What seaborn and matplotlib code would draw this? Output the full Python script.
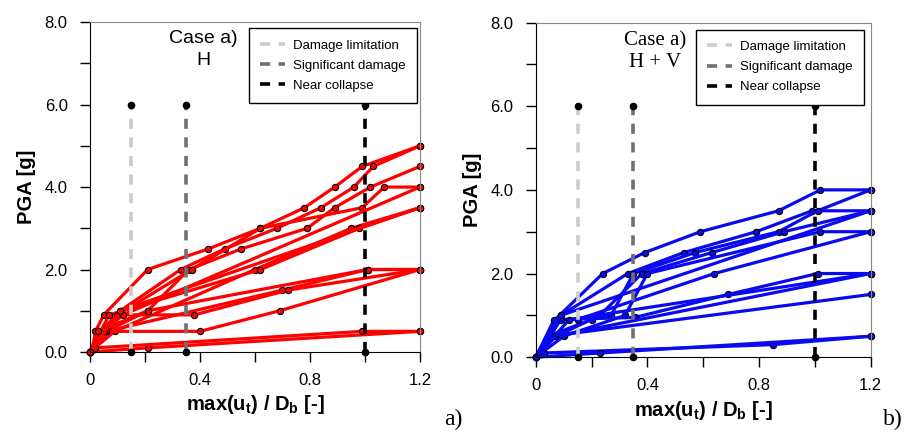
import pandas as pd
import seaborn as sns
import matplotlib.pyplot as plt
from matplotlib.lines import Line2D

# limit states (normalised isolator displacement)
limit_names = ['Damage limitation', 'Significant damage', 'Near collapse']
limit_x = [0.15, 0.35, 1.0]
limit_colors = ['#cccccc', '#707070', '#000000']
limit_top = 6.0

x_ticks = [0, 0.4, 0.8, 1.2]
x_tick_labels = ['0', '0.4', '0.8', '1.2']
y_ticks = [0, 2, 4, 6, 8]
y_tick_labels = ['0.0', '2.0', '4.0', '6.0', '8.0']

# case a) H : one list per record
h_drift = [
    [0, 0.01, 0.02, 0.05, 0.21, 0.43, 0.62, 0.78, 0.89, 0.99, 1.2],
    [0, 0.02, 0.04, 0.11, 0.33, 0.49, 0.68, 0.84, 0.96, 1.03, 1.2],
    [0, 0.06, 0.21, 0.36, 0.55, 0.79, 0.89, 1.02, 1.2],
    [0, 0.07, 0.10, 0.37, 0.62, 0.99, 1.07, 1.2],
    [0, 0.09, 0.60, 0.95, 1.2],
    [0, 0.07, 0.62, 0.98, 1.2],
    [0, 0.06, 0.70, 1.01, 1.2],
    [0, 0.10, 0.38, 0.72, 1.2],
    [0, 0.06, 0.40, 0.69, 1.2],
    [0, 0.21, 1.2],
    [0, 0.02, 0.99, 1.2],
    [0, 0.05, 0.12, 1.2],
    [0, 0.11, 1.2],
    [0, 0.03, 0.21, 1.01, 1.2],
]
h_pga = [
    [0, 0.1, 0.5, 0.9, 2.0, 2.5, 3.0, 3.5, 4.0, 4.5, 5.0],
    [0, 0.1, 0.5, 1.0, 2.0, 2.5, 3.0, 3.5, 4.0, 4.5, 5.0],
    [0, 0.5, 1.0, 2.0, 2.5, 3.0, 3.5, 4.0, 4.5],
    [0, 0.5, 0.9, 2.0, 3.0, 3.5, 4.0, 4.0],
    [0, 0.5, 2.0, 3.0, 3.5],
    [0, 0.9, 2.0, 3.0, 3.5],
    [0, 0.5, 1.5, 2.0, 2.0],
    [0, 0.9, 0.9, 1.5, 2.0],
    [0, 0.5, 0.5, 1.0, 2.0],
    [0, 0.1, 0.5],
    [0, 0.1, 0.5, 0.5],
    [0, 0.5, 0.9, 4.0],
    [0, 1.0, 3.5],
    [0, 0.5, 1.0, 2.0, 2.0],
]

# case a) H + V
hv_drift = [
    [0, 0.01, 0.05, 0.07, 0.24, 0.39, 0.59, 0.87, 1.02, 1.2],
    [0, 0.02, 0.056, 0.09, 0.33, 0.53, 0.79, 0.99, 1.2],
    [0, 0.044, 0.20, 0.27, 0.35, 0.57, 0.87, 1.01, 1.2],
    [0, 0.072, 0.23, 0.38, 0.63, 0.89, 1.2],
    [0, 0.10, 0.32, 0.40, 1.02, 1.2],
    [0, 0.066, 0.15, 0.64, 1.2],
    [0, 0.09, 0.355, 0.69, 1.01, 1.2],
    [0, 0.05, 1.2],
    [0, 0.03, 0.85, 1.2],
    [0, 0.23, 1.2],
    [0, 0.07, 1.2],
    [0, 0.09, 1.2],
    [0, 0.12, 1.2],
]
hv_pga = [
    [0, 0.1, 0.5, 0.9, 2.0, 2.5, 3.0, 3.5, 4.0, 4.0],
    [0, 0.1, 0.5, 1.0, 2.0, 2.5, 3.0, 3.5, 3.5],
    [0, 0.5, 0.9, 1.0, 2.0, 2.5, 3.0, 3.5, 4.0],
    [0, 0.5, 1.0, 2.0, 2.5, 3.0, 3.5],
    [0, 0.5, 1.0, 2.0, 3.0, 3.0],
    [0, 0.9, 0.9, 2.0, 3.0],
    [0, 0.9, 0.95, 1.5, 2.0, 2.0],
    [0, 0.5, 1.5],
    [0, 0.1, 0.3, 0.5],
    [0, 0.1, 0.5],
    [0, 0.5, 2.0],
    [0, 1.0, 3.5],
    [0, 0.9, 2.0],
]

DASH = (0, (2.8, 2.35))


def to_frame(drifts, pgas):
    rows = []
    for i, (d, p) in enumerate(zip(drifts, pgas)):
        for x, y in zip(d, p):
            rows.append((i, x, y))
    return pd.DataFrame(rows, columns=['record', 'drift', 'pga'])


def draw_panel(ax, drifts, pgas, color, leg_anchor):
    df = to_frame(drifts, pgas)
    sns.lineplot(data=df, x='drift', y='pga', units='record', estimator=None, sort=False,
                 color=color, lw=2.3, marker='o', markersize=4.5, markerfacecolor=color,
                 markeredgecolor='black', markeredgewidth=0.8, legend=False, ax=ax,
                 zorder=2, clip_on=False)

    for x, c in zip(limit_x, limit_colors):
        ax.plot([x, x], [0, limit_top], color=c, lw=2.6, ls=DASH,
                dash_capstyle='butt', zorder=3)
        ax.plot([x, x], [0, limit_top], 'o', color='black', ms=4.5, zorder=4, clip_on=False)

    handles = [Line2D([0], [0], color=c, lw=2.6, ls=DASH, dash_capstyle='butt')
               for c in limit_colors]
    leg = ax.legend(handles, limit_names, loc='upper right', bbox_to_anchor=leg_anchor,
                    borderaxespad=0, fontsize=9.5, fancybox=False, framealpha=1,
                    edgecolor='black', handlelength=1.9, handletextpad=0.6,
                    borderpad=0.85, labelspacing=0.6)
    leg.get_frame().set_linewidth(1.0)

    ax.set_xlim(0, 1.2)
    ax.set_ylim(0, 8)
    ax.set_xticks(x_ticks, x_tick_labels)
    ax.set_xticks([0.2, 0.6, 1.0], minor=True)
    ax.set_yticks(y_ticks, y_tick_labels)
    ax.set_yticks([1, 3, 5, 7], minor=True)
    ax.tick_params(which='both', direction='out', length=7, width=1, labelsize=12,
                   colors='black')
    ax.tick_params(axis='y', pad=9)
    ax.tick_params(axis='x', pad=8)
    ax.set_xlabel('max(u$_{\\mathbf{t}}$) / D$_{\\mathbf{b}}$ [-]', fontsize=14.5,
                  fontweight='bold', labelpad=4, color='black')
    ax.set_ylabel('PGA [g]', fontsize=14.5, fontweight='bold', labelpad=6, color='black')
    for s in ['top', 'right']:
        ax.spines[s].set_color('#888888')
    for s in ['left', 'bottom']:
        ax.spines[s].set_color('black')


sns.set_style('ticks')
plt.rcParams['font.family'] = ['Liberation Sans', 'DejaVu Sans']
plt.rcParams['text.color'] = 'black'
plt.rcParams['mathtext.fontset'] = 'custom'
plt.rcParams['mathtext.bf'] = 'Liberation Sans:bold'

fig = plt.figure(figsize=(9.05, 4.34), dpi=100)
ax1 = fig.add_axes([0.0994, 0.189, 0.3646, 0.760])
ax2 = fig.add_axes([0.592, 0.177, 0.370, 0.771])

draw_panel(ax1, h_drift, h_pga, '#ff0000', (0.99, 0.982))
draw_panel(ax2, hv_drift, hv_pga, '#0a0af0', (0.98, 0.979))

ax1.text(0.343, 0.975, 'Case a)\nH', transform=ax1.transAxes, ha='center', va='top',
         fontsize=14, linespacing=1.35)
ax2.text(0.355, 0.975, 'Case a)\nH + V', transform=ax2.transAxes, ha='center', va='top',
         fontsize=15, family='Liberation Serif', linespacing=1.2)

fig.text(0.501, 0.02, 'a)', fontsize=17, family='Liberation Serif', ha='center')
fig.text(0.987, 0.02, 'b)', fontsize=17, family='Liberation Serif', ha='center')

fig.savefig('out.png', dpi=100)
